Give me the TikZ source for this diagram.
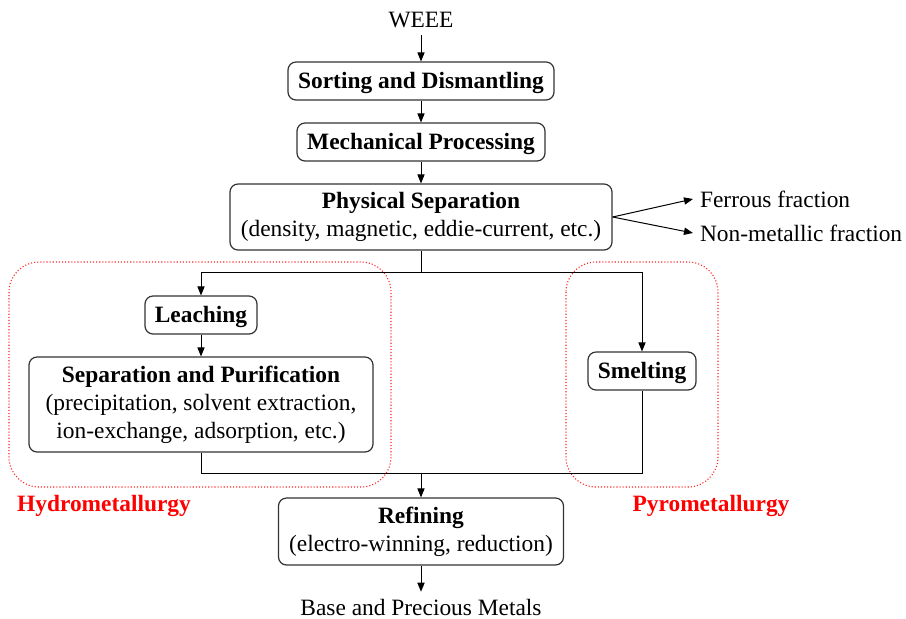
\documentclass[tikz,border=0pt]{standalone}
\usepackage{fontspec}
\setmainfont{Liberation Serif}
\usetikzlibrary{arrows.meta}

\tikzset{
	stepbox/.style={draw=black!80, line width=0.6pt, rounded corners=4pt, align=center, inner sep=0pt},
	flow/.style={-{Triangle[length=4.5pt,width=3.6pt]}, line width=0.5pt},
	groupbox/.style={draw=red!85, densely dotted, line width=0.55pt, rounded corners=15pt},
	grouplabel/.style={text=red, font=\fontsize{11.7}{14}\selectfont\bfseries}
}

\begin{document}
\begin{tikzpicture}[x=0.5pt, y=-0.5pt, font=\fontsize{11.7}{14}\selectfont]
		\useasboundingbox (0,0) rectangle (906,618);
		% groups
		\draw [groupbox] (9,262) rectangle (391,487);
		\draw [groupbox] (566,262) rectangle (718,487);
		\node [grouplabel] (hydro) at (104,506) {Hydrometallurgy};
		\node [grouplabel] (pyro) at (711,506) {Pyrometallurgy};
		% main chain
		\node (weee) at (421,20) {WEEE};
		\node (sort) [stepbox, minimum width=133pt, minimum height=19pt, text depth=1pt] at (421,81) {\textbf{Sorting and Dismantling}};
		\node (mech) [stepbox, minimum width=124pt, minimum height=19pt, text depth=1pt] at (421,142) {\textbf{Mechanical Processing}};
		\node (phys) [stepbox, minimum width=191pt, minimum height=33pt] at (421,217) {\textbf{Physical Separation}\\(density, magnetic, eddie-current, etc.)};
		\node (ferrous) [anchor=west] at (693,199) {Ferrous fraction};
		\node (nonmet) [anchor=west] at (693,233) {Non-metallic fraction};
		\node (leach) [stepbox, minimum width=56pt, minimum height=19pt, text depth=1pt] at (201,315) {\textbf{Leaching}};
		\node (sep) [stepbox, minimum width=172pt, minimum height=47.5pt] at (201,404.5) {\textbf{Separation and Purification}\\(precipitation, solvent extraction,\\ion-exchange, adsorption, etc.)};
		\node (smelt) [stepbox, minimum width=54pt, minimum height=19pt, text depth=1pt] at (642,371) {\textbf{Smelting}};
		\node (refine) [stepbox, minimum width=142.5pt, minimum height=33.5pt] at (421,531.5) {\textbf{Refining}\\(electro-winning, reduction)};
		\node (metals) at (421,607) {Base and Precious Metals};
		\coordinate (split) at (421,272);
		\coordinate (merge) at (421,473);
		% connectors
		\draw [flow] (weee) -- (sort);
		\draw [flow] (sort) -- (mech);
		\draw [flow] (mech) -- (phys);
		\draw [flow] (phys.east) -- (ferrous.west);
		\draw [flow] (phys.east) -- (nonmet.west);
		\draw [line width=0.5pt] (phys) -- (split);
		\draw [flow] (split) -| (leach);
		\draw [flow] (split) -| (smelt);
		\draw [flow] (leach) -- (sep);
		\draw [line width=0.5pt] (sep) |- (merge) -| (smelt);
		\draw [flow] (merge) -- (refine);
		\draw [flow] (refine) -- (metals);
	\end{tikzpicture}
\end{document}
